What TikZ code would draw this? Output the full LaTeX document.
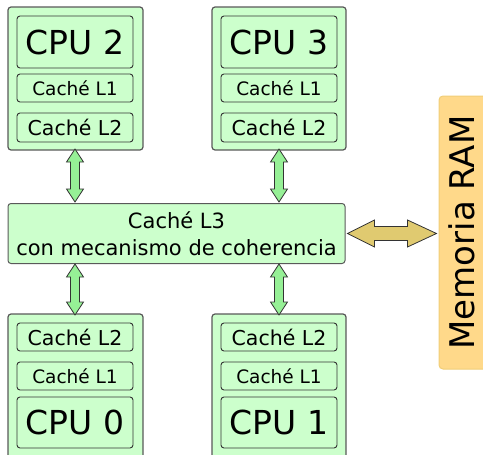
\documentclass[tikz,border=0pt]{standalone}
\usepackage{fontspec}
\setmainfont{DejaVu Sans}
\usetikzlibrary{calc}
\definecolor{boxgreen}{RGB}{204,255,204}
\definecolor{arrowgreen}{RGB}{150,240,150}
\definecolor{busgold}{RGB}{224,202,112}
\definecolor{ramfill}{RGB}{255,217,138}
\definecolor{ramedge}{RGB}{240,206,120}
\tikzset{
  outerbox/.style={draw=black!65, line width=1.2pt, fill=boxgreen, rounded corners=3pt},
  innerbox/.style={draw=black!80, line width=0.9pt, fill=boxgreen, rounded corners=3pt, inner sep=0pt},
  cputext/.style={font=\fontsize{33}{38}\selectfont},
  lonetext/.style={font=\fontsize{18.5}{22}\selectfont},
  ltwotext/.style={font=\fontsize{20.5}{24}\selectfont},
  garrow/.style={draw=black!80, line width=0.8pt, fill=arrowgreen, line join=miter},
  barrow/.style={draw=black!80, line width=0.8pt, fill=busgold, line join=miter},
}
% vertical double arrow between two anchor points (top, bottom)
\newcommand\vfat[2]{\draw[garrow] (#1) -- ++(8.5,13) -- ++(-4,0) -- ($(#2)+(4.5,-13)$) -- ++(4,0) -- (#2) -- ++(-8.5,-13) -- ++(4,0) -- ($(#1)+(-4.5,13)$) -- ++(-4,0) -- cycle;}
\begin{document}
\begin{tikzpicture}[x=1pt,y=-1pt]
\useasboundingbox (0,0) rectangle (483,455);

% upper processors
\draw[outerbox] (8,7) rectangle (143,150);
\node[innerbox, cputext, minimum width=116pt, minimum height=52pt] (cpu2) at (75,42) {CPU 2};
\node[innerbox, lonetext, minimum width=116pt, minimum height=28pt] (l1c2) at (75,88) {Caché L1};
\node[innerbox, ltwotext, minimum width=116pt, minimum height=29pt] (l2c2) at (75,127.5) {Caché L2};

\draw[outerbox] (212,7) rectangle (346,150);
\node[innerbox, cputext, minimum width=116pt, minimum height=52pt] (cpu3) at (279,42) {CPU 3};
\node[innerbox, lonetext, minimum width=116pt, minimum height=28pt] (l1c3) at (279,88) {Caché L1};
\node[innerbox, ltwotext, minimum width=116pt, minimum height=29pt] (l2c3) at (279,127.5) {Caché L2};

% lower processors
\draw[outerbox] (8,314) rectangle (143,458);
\node[innerbox, ltwotext, minimum width=116pt, minimum height=28pt] (l2c0) at (75,337) {Caché L2};
\node[innerbox, lonetext, minimum width=116pt, minimum height=28pt] (l1c0) at (75,376) {Caché L1};
\node[innerbox, cputext, minimum width=116pt, minimum height=51pt] (cpu0) at (75,422.5) {CPU 0};

\draw[outerbox] (212,314) rectangle (346,458);
\node[innerbox, ltwotext, minimum width=116pt, minimum height=28pt] (l2c1) at (279,337) {Caché L2};
\node[innerbox, lonetext, minimum width=116pt, minimum height=28pt] (l1c1) at (279,376) {Caché L1};
\node[innerbox, cputext, minimum width=116pt, minimum height=51pt] (cpu1) at (279,422.5) {CPU 1};

% shared cache
\node[outerbox, line width=1pt, minimum width=337pt, minimum height=60pt, align=center,
      font=\fontsize{21}{27}\selectfont, inner sep=0pt] (l3) at (176.5,233.5) {Caché L3\\con mecanismo de coherencia};

% main memory
\node[draw=ramedge, line width=1pt, fill=ramfill, rounded corners=4pt, minimum width=52pt,
      minimum height=273pt, inner sep=0pt] (ram) at (465,232.5) {};
\node[rotate=90, font=\fontsize{34}{38}\selectfont, inner sep=0pt] (ramtext) at (461.5,232.5) {Memoria RAM};

% anchor points on the processor blocks
\coordinate (p2) at (75,149);
\coordinate (p3) at (279,149);
\coordinate (p0) at (75,315);
\coordinate (p1) at (279,315);
\coordinate (l3a) at (75,202);
\coordinate (l3b) at (279,202);
\coordinate (l3c) at (75,264);
\coordinate (l3d) at (279,264);

\vfat{p2}{l3a}
\vfat{p3}{l3b}
\vfat{l3c}{p0}
\vfat{l3d}{p1}

% memory bus
\coordinate (busl) at ($(l3.east)+(2,0)$);
\coordinate (busr) at ($(ram.west |- l3.east)+(-2,0)$);
\draw[barrow] (busl) -- ++(27,-13.5) -- ++(0,6.5) -- ($(busr)+(-29,-7)$) -- ++(0,-6.5) -- (busr)
  -- ++(-29,13.5) -- ++(0,-6.5) -- ($(busl)+(27,7)$) -- ++(0,6.5) -- cycle;
\end{tikzpicture}
\end{document}
